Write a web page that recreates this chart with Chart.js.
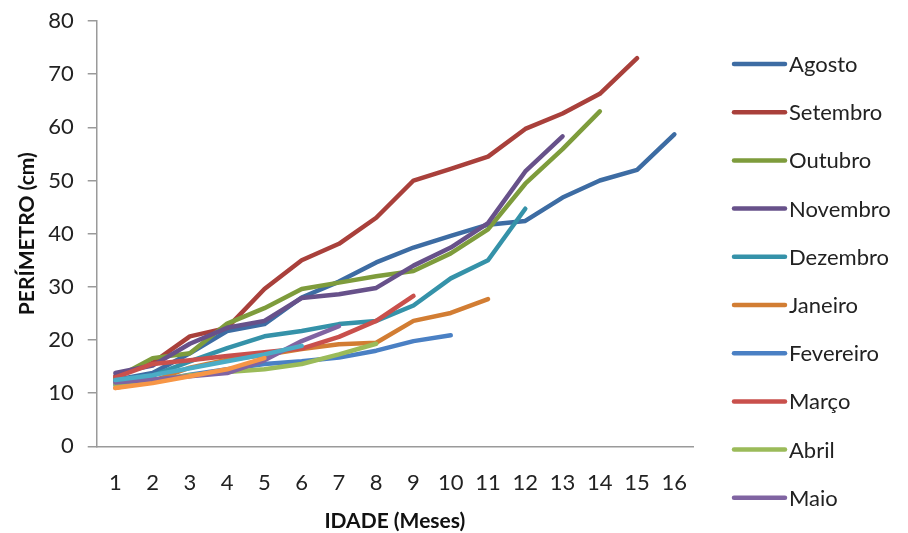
<!DOCTYPE html>
<html>
<head>
<meta charset="utf-8">
<script src="https://cdn.jsdelivr.net/npm/chart.js@4/dist/chart.umd.min.js"></script>
<style>
html,body{margin:0;padding:0;background:#fff;}
#wrap{width:908px;height:533px;position:relative;}
</style>
</head>
<body>
<div id="wrap"><canvas id="c" width="908" height="533"></canvas></div>
<script>
const categories = ['1','2','3','4','5','6','7','8','9','10','11','12','13','14','15','16'];
const seriesNames = ['Agosto','Setembro','Outubro','Novembro','Dezembro','Janeiro','Fevereiro','Março','Abril','Maio','Junho','Julho'];
const agosto    = [12.5,13.8,17.5,21.7,23,28,31,34.6,37.4,39.6,41.7,42.4,46.8,50,52,58.7];
const setembro  = [13.2,15.7,20.7,22.3,29.6,35,38.1,43,50,52.2,54.5,59.7,62.6,66.3,73];
const outubro   = [12.8,16.6,17.5,23.1,26,29.6,30.8,32,33,36.3,40.8,49.4,55.9,63];
const novembro  = [13.8,15.2,19.3,22.3,23.6,27.9,28.6,29.8,34,37.4,42,51.7,58.3];
const dezembro  = [12.2,13.3,16,18.5,20.7,21.7,23,23.6,26.5,31.6,35,44.7];
const janeiro   = [11,12.3,14.8,16.3,17.2,18.3,19.2,19.5,23.6,25.1,27.7];
const fevereiro = [11.6,12.2,13.5,14.5,15.5,16,16.7,18,19.8,20.9];
const marco     = [13,15.5,16.2,17,17.7,18.4,20.6,23.6,28.3];
const abril     = [11.7,12.4,13.4,14,14.5,15.5,17.3,19.3];
const maio      = [12,12.6,13.2,13.8,16.2,19.8,22.6];
const junho     = [12.5,13.4,14.7,16,17.3,18.9];
const julho     = [11,11.9,13.2,14.5,16.6];
const yTicks = [0,10,20,30,40,50,60,70,80];

const seriesData = [agosto,setembro,outubro,novembro,dezembro,janeiro,fevereiro,marco,abril,maio,junho,julho];
const colors = ['#3D6CA3','#A9403B','#7E9C3C','#67518A','#3592A9','#D27D33','#4A80C4','#C9504C','#9BBB59','#8064A2','#4BACC6','#F79646'];
const legendCount = 10;

const FONT = 'Lato';

const datasets = seriesData.map((d,i)=>({
  label: seriesNames[i],
  data: d,
  borderColor: colors[i],
  backgroundColor: colors[i],
  borderWidth: 4.5,
  pointRadius: 0,
  pointHoverRadius: 0,
  tension: 0,
  fill: false,
  borderCapStyle: 'round',
  borderJoinStyle: 'round',
  order: seriesData.length - i
}));

const customLegend = {
  id: 'customLegend',
  afterDraw(chart){
    const ctx = chart.ctx;
    ctx.save();
    ctx.font = '22px ' + FONT;
    ctx.textBaseline = 'middle';
    ctx.textAlign = 'left';
    const x0 = 734, x1 = 785, tx = 789, y0 = 64, step = 48.2;
    for(let i=0;i<legendCount;i++){
      const ds = chart.data.datasets[i];
      const y = y0 + i*step;
      ctx.strokeStyle = ds.borderColor;
      ctx.lineWidth = 4.5;
      ctx.lineCap = 'round';
      ctx.beginPath(); ctx.moveTo(x0,y); ctx.lineTo(x1,y); ctx.stroke();
      ctx.fillStyle = '#222';
      ctx.fillText(ds.label, tx, y+1);
    }
    ctx.restore();
  }
};

new Chart(document.getElementById('c'), {
  type: 'line',
  data: { labels: categories, datasets },
  options: {
    responsive: false,
    animation: false,
    devicePixelRatio: 1,
    layout: { padding: { left: 15, right: 215, top: 21, bottom: 0 } },
    plugins: { legend: { display: false }, tooltip: { enabled: false } },
    scales: {
      x: {
        offset: true,
        grid: { display: false },
        border: { display: true, color: '#9a9a9a', width: 1.5 },
        ticks: { color: '#222', font: { family: FONT, size: 22 }, padding: 15, maxRotation: 0, autoSkip: false },
        title: { display: true, text: 'IDADE (Meses)', color: '#111', font: { family: FONT, size: 21, weight: 'bold' }, padding: { top: -2, bottom: -1 } }
      },
      y: {
        min: 0, max: 80,
        afterBuildTicks(scale){ scale.ticks = yTicks.map(v=>({value:v})); },
        afterFit(scale){ scale.paddingTop = 0; },
        grid: { drawOnChartArea: false, drawTicks: true, tickLength: 9, color: '#9a9a9a', lineWidth: 1.5 },
        border: { display: true, color: '#9a9a9a', width: 1.5 },
        ticks: { color: '#222', font: { family: FONT, size: 22 }, padding: 14 },
        title: { display: true, text: 'PERÍMETRO (cm)', color: '#111', font: { family: FONT, size: 21, weight: 'bold' }, padding: { top: 0, bottom: -6 } }
      }
    }
  },
  plugins: [customLegend]
});
</script>
</body>
</html>
